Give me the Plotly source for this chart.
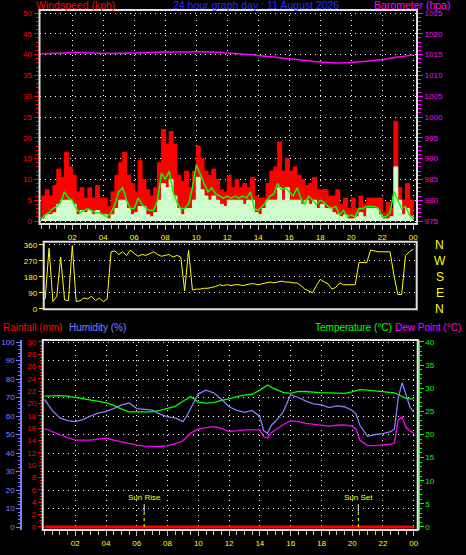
import plotly.graph_objects as go

W, H = 466, 555

# ---------------- data ----------------
t15 = [i / 4 for i in range(97)]  # 15-minute steps, 00:00 .. 24:00

gust_kph = [6, 7.5, 6, 8.5, 12.5, 10.5, 16.5, 13,
            11, 7, 8, 5.5, 8, 5.5, 8.5, 5.5,
            5.5, 3.5, 7, 11, 14, 16.5, 11, 9,
            7, 14.5, 10, 7.5, 6, 8, 14, 22,
            18.5, 21.5, 18.5, 11, 9.5, 12, 8, 12,
            18, 15, 12, 11, 12.5, 10, 7.5, 7,
            11, 8, 10, 8, 9, 8, 10.5, 6,
            5.5, 5.5, 9, 12, 13, 19, 12, 15,
            12, 13, 11, 10, 8.5, 9, 10.5, 7.5,
            7.5, 7.5, 6, 6, 7.5, 4, 5.5, 3,
            5.5, 3, 6, 4, 5.5, 5.5, 5.5, 5.5,
            2, 4.5, 3, 24, 8, 5, 9, 5,
            3]

speed_kph = [0.5, 1.5, 1.5, 2, 4, 5, 5, 5,
             4, 1.5, 2.5, 2, 2.5, 1.5, 2.5, 1.5,
             1.5, 0.5, 1.5, 3, 5, 5, 3, 1.5,
             2, 3.5, 3.5, 1.5, 1, 2, 5, 9,
             8, 10, 6, 3, 1.5, 3, 3, 5,
             10.5, 7.5, 6, 5, 6, 5, 4, 3.5,
             5, 5, 5, 5, 4, 5, 5, 2,
             1.5, 3, 5, 5, 5, 8, 5, 8,
             5, 5, 5, 4, 5, 4, 5, 3,
             4, 3, 3, 2, 1.5, 1, 1.5, 0.5,
             0.5, 1, 2, 1, 3, 3, 3, 1.5,
             0.5, 0.5, 1, 13, 5, 1.5, 3, 1,
             0.5]

avg_kph = [0.5, 1.5, 2, 3, 3.5, 4.5, 7, 5.5,
           5, 3, 2, 2.5, 3, 2.5, 2, 2,
           1.5, 1, 2, 4, 7, 8, 5, 3,
           3, 5.5, 4, 3, 2.5, 2.5, 5, 11.5,
           10, 12, 7, 4.5, 3, 3, 4, 8,
           13.5, 11, 9, 7, 8, 6.5, 6, 5.5,
           6, 5.5, 6, 5.5, 6, 5.5, 7, 3,
           2.5, 3.5, 4.5, 6, 6.5, 9, 7.5, 8,
           7, 6, 8, 5.5, 4, 6, 5, 4,
           5, 4.5, 3.5, 3, 3.5, 1.5, 2.5, 1,
           1.5, 1, 3, 3, 3.5, 3.5, 3.5, 3,
           1, 1, 2, 7, 5, 3, 3.5, 1.5,
           0.5]

dir_deg = [60, 55, 340, 40, 70, 290, 50, 45,
           355, 40, 45, 60, 55, 70, 45, 60,
           40, 55, 320, 325, 305, 320, 300, 330,
           310, 295, 305, 300, 310, 320, 305, 295,
           300, 305, 290, 300, 290, 100, 330, 105,
           110, 110, 115, 115, 120, 125, 135, 130,
           135, 130, 135, 135, 130, 135, 140, 140,
           135, 140, 145, 150, 145, 150, 155, 150,
           150, 145, 145, 130, 110, 100, 90, 130,
           165, 150, 140, 110, 120, 145, 135, 135,
           135, 135, 260, 260, 260, 330, 325, 320,
           320, 320, 320, 190, 80, 80, 300, 320,
           335]

t_baro = list(range(25))
baro_hpa = [1015.2, 1015.3, 1015.5, 1015.4, 1015.3, 1015.3, 1015.4, 1015.5,
            1015.6, 1015.6, 1015.7, 1015.6, 1015.4, 1015.1, 1014.8, 1014.4,
            1014.0, 1013.6, 1013.2, 1013.0, 1013.1, 1013.4, 1013.8, 1014.4,
            1014.9]

t_bot = [0, 0.5, 1, 1.5, 2, 2.5, 3, 3.5, 4, 4.5, 5, 5.5, 6, 6.5, 7, 7.5,
         8, 8.5, 9, 9.25, 9.5, 10, 10.5, 11, 11.5, 12, 12.5, 13, 13.5, 14,
         14.25, 14.5, 14.75, 15, 15.5, 16, 16.5, 17, 17.5, 18, 18.5, 19,
         19.5, 20, 20.25, 20.5, 21, 21.5, 22, 22.5, 22.75, 23, 23.25, 23.5,
         23.75, 24]

temp_c = [28.3, 28.4, 28.4, 28.3, 28.0, 27.7, 27.4, 27.2, 26.9, 26.3, 25.5,
          24.9, 24.9, 24.9, 24.9, 25.2, 25.6, 26.1, 27.2, 27.8, 28.2, 27.0,
          26.8, 26.9, 27.4, 27.7, 28.2, 28.5, 28.7, 29.6, 30.2, 30.7, 30.2,
          29.8, 29.1, 28.9, 29.3, 29.3, 29.1, 29.0, 29.0, 28.9, 28.9, 29.2,
          29.5, 29.7, 29.6, 29.4, 29.2, 29.1, 29.0, 28.6, 28.2, 27.8, 27.7,
          27.7]

hum_pct = [69, 63, 59, 57.5, 57, 58, 60, 61.5, 62.5, 64, 66, 67, 64, 63.5,
           63.2, 61, 59.5, 59, 57, 60, 64, 72, 74, 72.5, 69, 65, 63, 62, 63,
           59.6, 52, 50.6, 55, 57, 62, 71.5, 70, 68, 66.5, 66, 64.5, 65.5,
           65, 63, 61, 55, 49, 50, 50.5, 51.5, 53, 70, 78, 71, 65, 62]

dew_c = [21.3, 20.6, 20.0, 19.3, 18.8, 18.8, 18.8, 19.0, 19.2, 18.8, 18.4,
         18.1, 17.7, 17.5, 17.4, 17.4, 17.6, 18.0, 18.6, 19.5, 20.3, 21.2,
         21.5, 21.7, 21.3, 20.7, 20.8, 21.0, 21.0, 21.0, 19.5, 19.2, 20.4,
         21.0, 22.1, 23.0, 22.8, 22.4, 22.2, 21.9, 21.8, 22.0, 22.1, 21.8,
         21.2, 18.8, 17.6, 17.6, 17.8, 17.9, 18.2, 23.2, 23.8, 21.5, 20.8,
         20.3]

t_rain = [0, 24]
rain_mm = [0, 0]

hour_ticks = [2, 4, 6, 8, 10, 12, 14, 16, 18, 20, 22, 24]
hour_labels = ["02", "04", "06", "08", "10", "12", "14", "16", "18", "20", "22", "00"]

compass_deg = [360, 270, 180, 90, 0]
compass_txt = ["N", "W", "S", "E", "N"]

sunrise_h = 6.48
sunset_h = 20.40

# ---------------- styling ----------------
FONT = "Liberation Sans, Arial, sans-serif"
RED, MAG, YEL, GRN, HUM, PALE = "#FF0000", "#FF00FF", "#FFFF00", "#00FF00", "#8080FF", "#CCFFCC"
FRAME = "#E0E0E0"
GRID = dict(showgrid=True, gridcolor="#FFFFFF", gridwidth=1, griddash="1px,4px")


def px(x):
    return x / W


def py(y):
    return 1 - y / H


fig = go.Figure()

# top panel: wind
fig.add_trace(go.Scatter(x=t15, y=gust_kph, mode="lines", fill="tozeroy",
                         line=dict(color=RED, width=1, shape="hv"), fillcolor=RED,
                         xaxis="x", yaxis="y"))
fig.add_trace(go.Scatter(x=t15, y=speed_kph, mode="lines", fill="tozeroy",
                         line=dict(color=PALE, width=1, shape="hv"), fillcolor=PALE,
                         xaxis="x", yaxis="y"))
fig.add_trace(go.Scatter(x=t15, y=avg_kph, mode="lines",
                         line=dict(color=GRN, width=1.5), xaxis="x", yaxis="y"))
fig.add_trace(go.Scatter(x=t_baro, y=baro_hpa, mode="lines",
                         line=dict(color=MAG, width=1.5, shape="spline"), xaxis="x", yaxis="y2"))

# middle panel: direction
fig.add_trace(go.Scatter(x=t15, y=dir_deg, mode="lines",
                         line=dict(color=YEL, width=1), xaxis="x2", yaxis="y3"))

# bottom panel
fig.add_trace(go.Scatter(x=t_rain, y=rain_mm, mode="lines",
                         line=dict(color=RED, width=3), xaxis="x3", yaxis="y4"))
fig.add_trace(go.Scatter(x=t_bot, y=temp_c, mode="lines",
                         line=dict(color=GRN, width=1.3), xaxis="x3", yaxis="y5"))
fig.add_trace(go.Scatter(x=t_bot, y=dew_c, mode="lines",
                         line=dict(color=MAG, width=1.3), xaxis="x3", yaxis="y5"))
fig.add_trace(go.Scatter(x=t_bot, y=hum_pct, mode="lines",
                         line=dict(color=HUM, width=1.3), xaxis="x3", yaxis="y6"))

tickfont = lambda c: dict(family=FONT, size=8, color=c)

xcommon = dict(tickmode="array", tickvals=hour_ticks, ticktext=hour_labels,
               ticks="outside", ticklen=5, tickcolor="#C0C0C0", tickwidth=1,
               tickfont=tickfont(YEL), zeroline=False, showline=False, automargin=False,
               minor=dict(tickmode="linear", tick0=0, dtick=0.5, ticks="outside",
                          ticklen=4, tickcolor="#C0C0C0", showgrid=False),
               **GRID)

fig.update_layout(
    width=W, height=H, autosize=False, template="none",
    margin=dict(l=0, r=0, t=0, b=0, pad=0),
    paper_bgcolor="black", plot_bgcolor="black",
    showlegend=False, hovermode=False,
    font=dict(family=FONT, size=8, color="white"),
    xaxis=dict(domain=[px(39.5), px(417)], anchor="y", range=[-0.116, 24.24], **xcommon),
    yaxis=dict(domain=[py(224), py(10)], anchor="x", range=[-0.72, 50.72],
               tickmode="linear", tick0=0, dtick=5, ticks="outside", ticklen=5,
               tickcolor=RED, tickfont=tickfont(RED), zeroline=False, automargin=False,
               minor=dict(tickmode="linear", tick0=0, dtick=1, ticks="outside",
                          ticklen=3, tickcolor=RED, showgrid=False),
               **GRID),
    yaxis2=dict(overlaying="y", side="right", anchor="x", range=[974.28, 1025.72],
                tickmode="linear", tick0=975, dtick=5, ticks="outside", ticklen=5,
                tickcolor=MAG, tickfont=tickfont(MAG), showgrid=False, zeroline=False,
                automargin=False,
                minor=dict(tickmode="linear", tick0=975, dtick=1, ticks="outside",
                           ticklen=3, tickcolor=MAG, showgrid=False)),
    xaxis2=dict(domain=[px(43.7), px(416.7)], anchor="y3", range=[0.155, 24.22],
                showticklabels=False, ticks="", showgrid=False, zeroline=False,
                automargin=False),
    yaxis3=dict(domain=[py(309.3), py(241.7)], anchor="x2", range=[-3.4, 376.9],
                tickmode="array", tickvals=[0, 90, 180, 270, 360],
                ticks="outside", ticklen=4, tickcolor=YEL, tickfont=tickfont(YEL),
                zeroline=False, automargin=False, **GRID),
    xaxis3=dict(domain=[px(42.7), px(417.7)], anchor="y4", range=[-0.117, 24.26], **xcommon),
    yaxis4=dict(domain=[py(530), py(340)], anchor="x3", side="left", range=[-0.49, 30.32],
                tickmode="linear", tick0=0, dtick=2, ticks="outside", ticklen=4,
                tickcolor=RED, tickfont=tickfont(RED), showgrid=False, zeroline=False,
                automargin=False,
                minor=dict(tickmode="linear", tick0=0, dtick=0.5, ticks="outside",
                           ticklen=2, tickcolor=RED, showgrid=False)),
    yaxis5=dict(overlaying="y4", side="right", anchor="x3", range=[-0.65, 40.43],
                tickmode="linear", tick0=0, dtick=5, ticks="outside", ticklen=4,
                tickcolor=GRN, tickfont=tickfont(GRN), showgrid=False, zeroline=False,
                showline=True, linecolor=GRN, linewidth=2, automargin=False,
                minor=dict(tickmode="linear", tick0=0, dtick=1, ticks="outside",
                           ticklen=2, tickcolor=GRN, showgrid=False)),
    yaxis6=dict(overlaying="y4", side="left", anchor="free", position=px(21.3),
                range=[-1.62, 101.08], tickmode="linear", tick0=0, dtick=10,
                ticks="outside", ticklen=4, tickcolor=HUM, tickfont=tickfont(HUM),
                showline=True, linecolor=HUM, linewidth=2, zeroline=False,
                automargin=False,
                minor=dict(tickmode="linear", tick0=0, dtick=2, ticks="outside",
                           ticklen=2, tickcolor=HUM, showgrid=False),
                **GRID),
)

# frames
shapes = []
for (x0, x1, y0, y1) in [(39.5, 417, 10, 224), (43.7, 416.7, 241.7, 309.3), (42.7, 417.7, 340, 530)]:
    shapes.append(dict(type="rect", xref="paper", yref="paper",
                       x0=px(x0), x1=px(x1), y0=py(y1), y1=py(y0),
                       line=dict(color=FRAME, width=2), layer="above"))

# sunrise / sunset markers
for h in (sunrise_h, sunset_h):
    shapes.append(dict(type="line", xref="x3", yref="y6", x0=h, x1=h, y0=8.3, y1=12.3,
                       line=dict(color="white", width=1)))
    shapes.append(dict(type="line", xref="x3", yref="y6", x0=h, x1=h, y0=0, y1=8.3,
                       line=dict(color=YEL, width=1, dash="dot")))
fig.update_layout(shapes=shapes)

ann = []


def txt(text, x, y, color, size=10.5, xanchor="left"):
    ann.append(dict(text=text, x=px(x), y=py(y), xref="paper", yref="paper",
                    xanchor=xanchor, yanchor="middle", showarrow=False,
                    font=dict(family=FONT, size=size, color=color)))


txt("Windspeed (kph)", 34, 4.5, RED)
txt("24 hour graph day : 11 August 2026", 256, 4.5, "#2B2BFF", xanchor="center")
txt("Barometer (hpa)", 372, 4.5, MAG)
txt("Rainfall (mm)", 0.5, 327.5, RED, size=10)
txt("Humidity (%)", 66.5, 327.5, HUM, size=10)
txt("Temperature (°C)", 313, 327.5, GRN, size=10)
txt("Dew Point (°C)", 392.5, 327.5, MAG, size=10)

for d, lab in zip(compass_deg, compass_txt):
    ann.append(dict(text=lab, x=px(439.5), y=d, xref="paper", yref="y3",
                    xanchor="center", yanchor="middle", showarrow=False,
                    font=dict(family=FONT, size=12, color=YEL)))

for h, lab in ((sunrise_h, "Sun Rise"), (sunset_h, "Sun Set")):
    ann.append(dict(text=lab, x=h, y=15.8, xref="x3", yref="y6",
                    xanchor="center", yanchor="middle", showarrow=False,
                    font=dict(family=FONT, size=8, color=YEL)))

fig.update_layout(annotations=ann)

fig.write_html("out.html", config={"displayModeBar": False, "staticPlot": True},
               post_script="document.body.style.margin='0';document.body.style.overflow='hidden';")
